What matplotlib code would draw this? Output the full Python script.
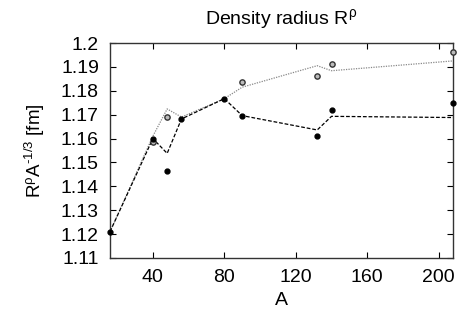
import matplotlib
matplotlib.use("Agg")
import matplotlib.pyplot as plt

plt.rcParams['font.family'] = ['Liberation Sans', 'DejaVu Sans']
plt.rcParams['mathtext.fontset'] = 'custom'
plt.rcParams['mathtext.rm'] = 'Liberation Sans'
plt.rcParams['mathtext.it'] = 'Liberation Sans:italic'
plt.rcParams['mathtext.bf'] = 'Liberation Sans:bold'

# data
A_nuclei = [16, 40, 48, 56, 80, 90, 132, 140, 208]
calc_dashed = [1.121, 1.1600, 1.1538, 1.1682, 1.1767, 1.1696, 1.1636, 1.1693, 1.1688]
calc_dotted = [1.121, 1.1610, 1.1724, 1.1690, 1.1767, 1.1815, 1.1905, 1.1884, 1.1925]
A_filled = [16, 40, 48, 56, 80, 90, 132, 140, 208]
val_filled = [1.121, 1.1597, 1.1464, 1.1682, 1.1767, 1.1696, 1.1610, 1.1718, 1.1750]
A_open = [40, 48, 90, 132, 140, 208]
val_open = [1.1587, 1.1689, 1.1837, 1.1862, 1.1913, 1.1962]

xticks = [40, 80, 120, 160, 200]
yticks = [1.11, 1.12, 1.13, 1.14, 1.15, 1.16, 1.17, 1.18, 1.19, 1.2]
ytick_labels = ['1.11', '1.12', '1.13', '1.14', '1.15', '1.16', '1.17', '1.18', '1.19', '1.2']

fig = plt.figure(figsize=(4.61, 3.24), dpi=100)
ax = fig.add_axes([110/461, 66/324, 343/461, 215/324])

ax.plot(A_nuclei, calc_dotted, color='#888888', lw=0.9, linestyle=(0, (1, 1)), zorder=2)
ax.plot(A_nuclei, calc_dashed, color='black', lw=0.9, linestyle=(0, (3, 1.5)), zorder=2)
ax.plot(A_open, val_open, 'o', ms=3.8, mfc='#bbbbbb', mec='#333333', mew=1.0, zorder=3, clip_on=False)
ax.plot(A_filled, val_filled, 'o', ms=3.5, color='black', zorder=4, clip_on=False)

ax.set_xlim(16, 208)
ax.set_ylim(1.11, 1.2)
ax.set_xticks(xticks)
ax.set_yticks(yticks)
ax.set_yticklabels(ytick_labels)
ax.tick_params(direction='in', top=True, right=True, length=4, width=0.8, labelsize=14, pad=8)
for s in ax.spines.values():
    s.set_color('#333333')
    s.set_linewidth(1.0)

ax.set_xlabel('A', fontsize=14, labelpad=4)
ax.set_ylabel(r'R$^{\mathrm{\rho}}$A$^{\text{-1/3}}$ [fm]', fontsize=13.5, labelpad=10)
ax.set_title(r'Density radius R$^{\mathrm{\rho}}$', fontsize=14, pad=14)

fig.savefig('out.png', dpi=100)
